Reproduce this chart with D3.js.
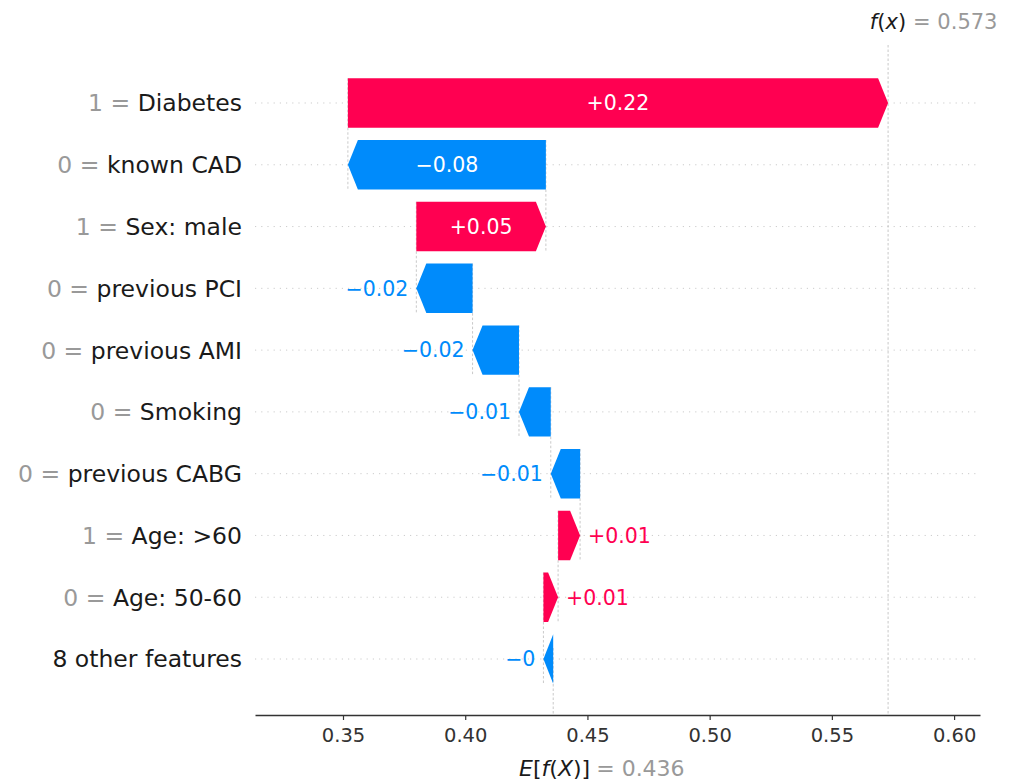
<!DOCTYPE html>
<html>
<head>
<meta charset="utf-8">
<script src="https://cdn.jsdelivr.net/npm/d3@7"></script>
<style>
  body { margin: 0; background: #fff; }
  text { font-family: "DejaVu Sans", sans-serif; }
</style>
</head>
<body>
<svg id="chart"></svg>
<script>
// data, top row first
const featureValues = ["1", "0", "1", "0", "0", "0", "0", "1", "0", ""];
const featureNames = ["Diabetes", "known CAD", "Sex: male", "previous PCI", "previous AMI",
  "Smoking", "previous CABG", "Age: >60", "Age: 50-60", "8 other features"];
const shapValues = [0.221, -0.081, 0.053, -0.023, -0.019, -0.013, -0.012, 0.009, 0.006, -0.004];
const baseValue = 0.436;
const fxValue = 0.573;
const xTicks = [0.35, 0.40, 0.45, 0.50, 0.55, 0.60];

const width = 1011;
const height = 782;
const red = "#ff0051";
const blue = "#008bfb";
const axisColor = "#333333";

const svg = d3.select("#chart")
  .attr("width", width)
  .attr("height", height);

// cumulative starts / ends, from the bottom row up
const n = shapValues.length;
const starts = new Array(n);
const ends = new Array(n);
let acc = baseValue;
for (let i = n - 1; i >= 0; i--) {
  starts[i] = acc;
  acc += shapValues[i];
  ends[i] = acc;
}

const x = d3.scaleLinear().domain([0.314, 0.6106]).range([255, 980]);
const y = d3.scaleBand()
  .domain(d3.range(n))
  .range([72.1, 689.9])
  .paddingInner(0.2)
  .paddingOuter(0.1);

const axisY = 715;
const plotTop = 45;
const headLen = 10;

// horizontal dotted row lines
svg.append("g")
  .selectAll("line")
  .data(d3.range(n))
  .join("line")
  .attr("x1", 255).attr("x2", 980)
  .attr("y1", i => y(i) + y.bandwidth() / 2)
  .attr("y2", i => y(i) + y.bandwidth() / 2)
  .attr("stroke", "#cccccc")
  .attr("stroke-width", 1)
  .attr("stroke-dasharray", "1.2,5");

const vline = (x0, y0, y1) => svg.append("line")
  .attr("x1", x0).attr("x2", x0)
  .attr("y1", y0).attr("y2", y1)
  .attr("stroke", "#bbbbbb")
  .attr("stroke-width", 0.8)
  .attr("stroke-dasharray", "2.5,2");

// connectors between bars
for (let i = 0; i < n - 1; i++) {
  vline(x(starts[i]), y(i), y(i + 1) + y.bandwidth());
}
vline(x(fxValue), plotTop, axisY);
vline(x(baseValue), axisY - (axisY - plotTop) / n, axisY);

// bars as arrows
const arrow = i => {
  const a = x(Math.min(starts[i], ends[i]));
  const b = x(Math.max(starts[i], ends[i]));
  const t = y(i), bt = t + y.bandwidth(), m = t + y.bandwidth() / 2;
  const h = Math.min(headLen, b - a);
  if (shapValues[i] >= 0) {
    return [[a, t], [b - h, t], [b, m], [b - h, bt], [a, bt]];
  }
  return [[b, t], [a + h, t], [a, m], [a + h, bt], [b, bt]];
};

svg.append("g")
  .selectAll("path")
  .data(d3.range(n))
  .join("path")
  .attr("d", i => d3.line()(arrow(i)) + "Z")
  .attr("fill", i => shapValues[i] >= 0 ? red : blue);

const fmt = v => d3.format("+.2f")(v).replace(/\.?0+$/, "").replace("-", "\u2212");

// value labels
const labels = svg.append("g")
  .selectAll("text")
  .data(d3.range(n))
  .join("text")
  .attr("y", i => y(i) + y.bandwidth() / 2)
  .attr("dy", "0.36em")
  .attr("font-size", 20.5)
  .text(i => fmt(shapValues[i]));

labels.each(function(i) {
  const t = d3.select(this);
  const w = this.getComputedTextLength();
  const a = x(Math.min(starts[i], ends[i]));
  const b = x(Math.max(starts[i], ends[i]));
  const col = shapValues[i] >= 0 ? red : blue;
  if (w + 8 < b - a) {
    t.attr("x", (a + b) / 2).attr("text-anchor", "middle").attr("fill", "#fff");
  } else if (shapValues[i] >= 0) {
    t.attr("x", b + 8).attr("text-anchor", "start").attr("fill", col);
  } else {
    t.attr("x", a - 8).attr("text-anchor", "end").attr("fill", col);
  }
});

// row labels
const rowLabels = svg.append("g")
  .selectAll("text")
  .data(d3.range(n))
  .join("text")
  .attr("x", 242)
  .attr("y", i => y(i) + y.bandwidth() / 2)
  .attr("dy", "0.36em")
  .attr("text-anchor", "end")
  .attr("font-size", 23.5);
rowLabels.filter(i => featureValues[i] !== "")
  .append("tspan")
  .attr("fill", "#999999")
  .text(i => featureValues[i] + " = ");
rowLabels.append("tspan")
  .attr("fill", "#1a1a1a")
  .text(i => featureNames[i]);

// bottom axis
const axis = svg.append("g")
  .attr("transform", `translate(0,${axisY})`)
  .call(d3.axisBottom(x).tickValues(xTicks).tickFormat(d3.format(".2f")).tickSize(5).tickSizeOuter(0));
axis.select(".domain").attr("stroke", axisColor).attr("stroke-width", 1.5);
axis.selectAll(".tick line").attr("stroke", axisColor).attr("stroke-width", 1.2);
axis.selectAll(".tick text")
  .attr("fill", axisColor)
  .attr("font-size", 19.5)
  .attr("font-family", "DejaVu Sans")
  .attr("dy", "0.95em");

// math labels
const mathLabel = (parts, xPos, yPos, anchor, size) => {
  const t = svg.append("text")
    .attr("x", xPos).attr("y", yPos)
    .attr("text-anchor", anchor)
    .attr("font-size", size);
  parts.forEach(([s, it, c]) => t.append("tspan")
    .attr("font-style", it ? "italic" : "normal")
    .attr("fill", c || "#1a1a1a")
    .text(s));
};

mathLabel([["f", 1], ["(", 0], ["x", 1], [")", 0]], x(fxValue) + 18, 29, "end", 21);
mathLabel([["= " + d3.format(".3f")(fxValue), 0, "#999999"]], x(fxValue) + 25, 29, "start", 21);
mathLabel([["E", 1], ["[", 0], ["f", 1], ["(", 0], ["X", 1], [")]", 0]], x(baseValue) + 37, 776, "end", 22);
mathLabel([["= " + d3.format(".3f")(baseValue), 0, "#999999"]], x(baseValue) + 43, 776, "start", 22);
</script>
</body>
</html>
